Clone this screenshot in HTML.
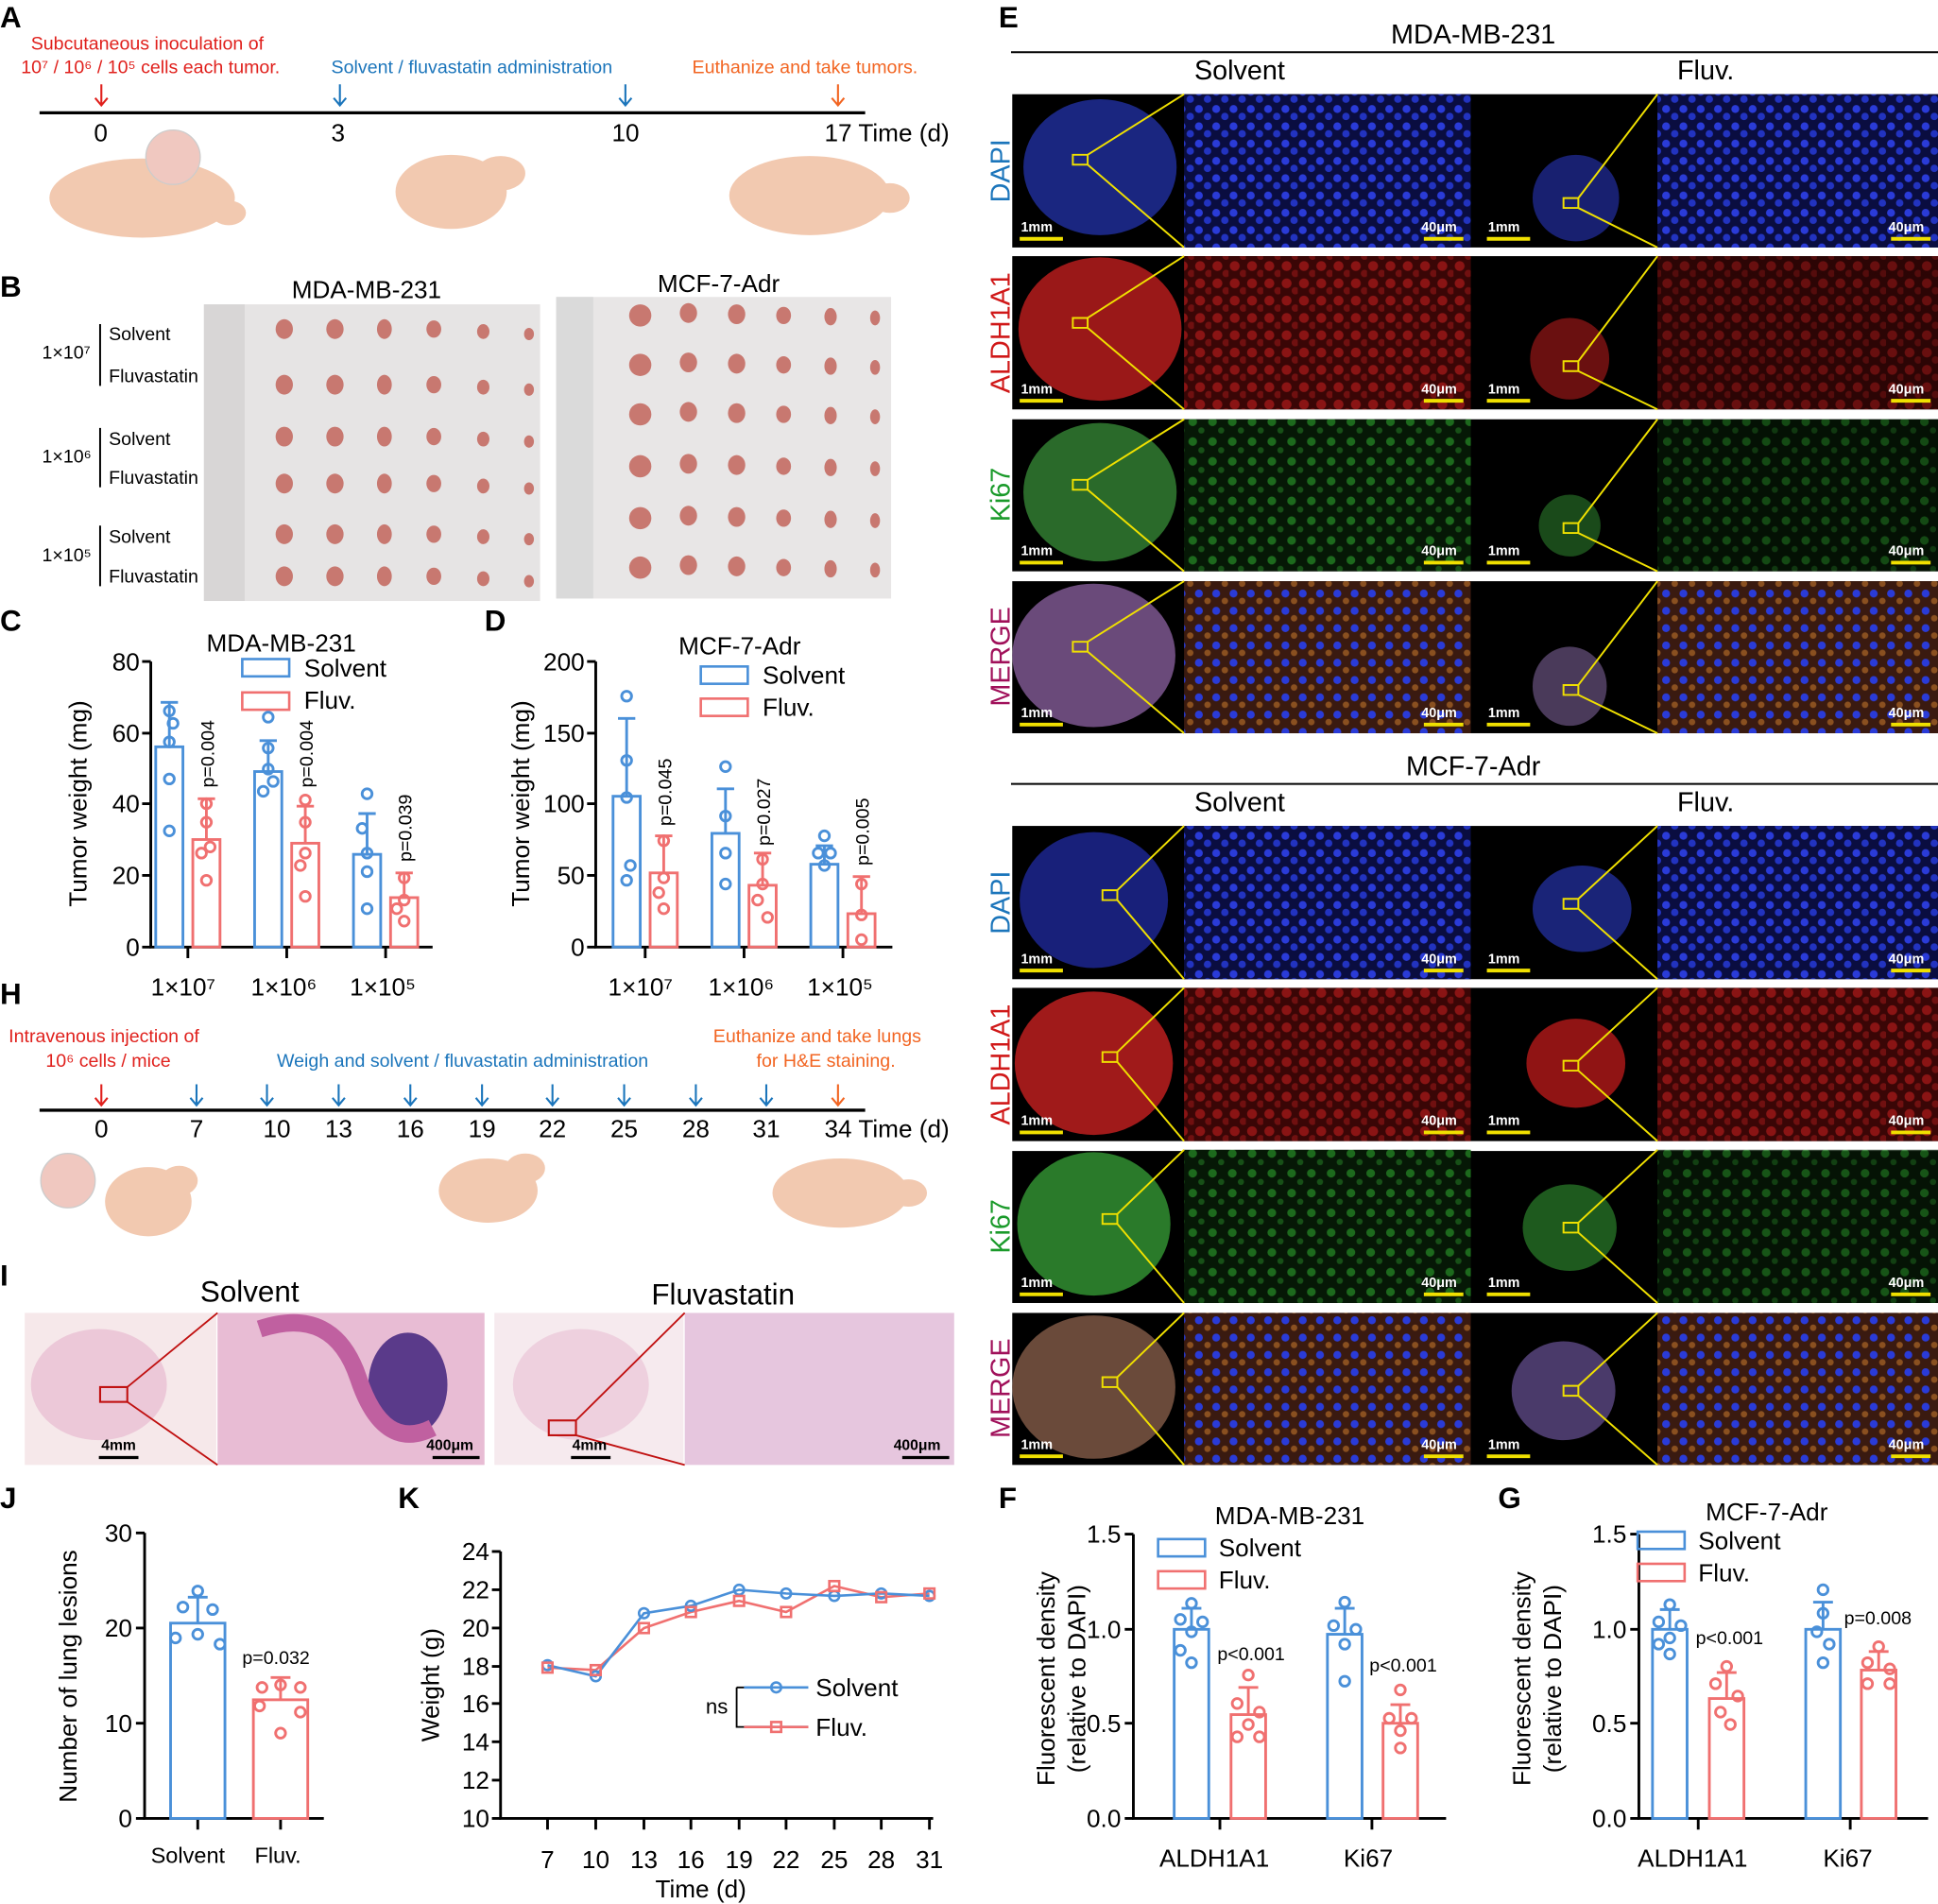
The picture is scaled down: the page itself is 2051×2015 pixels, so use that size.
<!DOCTYPE html>
<html><head><meta charset="utf-8"><style>
html,body{margin:0;padding:0;background:#fff}
svg{display:block}
text{font-family:"Liberation Sans",Arial,sans-serif}
</style></head><body>
<svg width="2051" height="2015" viewBox="0 0 1568 1540" xmlns="http://www.w3.org/2000/svg">
<defs>
<pattern id="pb" width="14" height="14" patternUnits="userSpaceOnUse"><rect width="14" height="14" fill="#0a0d40"/><circle cx="4" cy="4" r="3.2" fill="#2a3bd8"/><circle cx="11" cy="10" r="3" fill="#2233c0"/></pattern>
<pattern id="pr" width="14" height="14" patternUnits="userSpaceOnUse"><rect width="14" height="14" fill="#3a0606"/><circle cx="5" cy="5" r="4" fill="#8a1414"/><circle cx="12" cy="11" r="3" fill="#701010"/></pattern>
<pattern id="pg" width="16" height="16" patternUnits="userSpaceOnUse"><rect width="16" height="16" fill="#061806"/><circle cx="5" cy="5" r="3.5" fill="#1d6a1d"/><circle cx="12" cy="12" r="2.5" fill="#175017"/></pattern>
<pattern id="pm" width="14" height="14" patternUnits="userSpaceOnUse"><rect width="14" height="14" fill="#3a1a10"/><circle cx="4" cy="4" r="3.2" fill="#2a3bd8"/><circle cx="11" cy="10" r="2.6" fill="#8a5020"/></pattern>
</defs>
<g font-size="20" fill="#000">
<!-- Panel letters -->
<g font-weight="bold" font-size="24">
<text x="0" y="22">A</text><text x="0" y="240">B</text><text x="0" y="510">C</text><text x="392" y="510">D</text><text x="808" y="22">E</text>
<text x="0" y="812">H</text><text x="0" y="1040">I</text><text x="0" y="1220">J</text><text x="322" y="1220">K</text><text x="808" y="1220">F</text><text x="1212" y="1220">G</text>
</g>
<!-- Timeline A -->
<text x="25" y="40" font-size="15" fill="#e0201c">Subcutaneous inoculation of</text>
<text x="17" y="59" font-size="15" fill="#e0201c">10⁷ / 10⁶ / 10⁵ cells each tumor.</text>
<text x="268" y="59" font-size="15" fill="#1b75bb">Solvent / fluvastatin administration</text>
<text x="560" y="59" font-size="15" fill="#f26522">Euthanize and take tumors.</text>
<line x1="32" y1="91" x2="700" y2="91" stroke="#000" stroke-width="2.5"/>
<g stroke-width="1.6"><path d="M82 68v16M77 79l5 6 5-6" stroke="#e0201c" fill="none"/><path d="M275 68v16M270 79l5 6 5-6" stroke="#1b75bb" fill="none"/><path d="M506 68v16M501 79l5 6 5-6" stroke="#1b75bb" fill="none"/><path d="M678 68v16M673 79l5 6 5-6" stroke="#f26522" fill="none"/></g>
<text x="76" y="114">0</text><text x="268" y="114">3</text><text x="495" y="114">10</text><text x="667" y="114">17  Time (d)</text>
<g fill="#f2c9b0"><ellipse cx="115" cy="160" rx="75" ry="32"/><ellipse cx="185" cy="172" rx="14" ry="10"/><ellipse cx="365" cy="155" rx="45" ry="30"/><ellipse cx="405" cy="140" rx="20" ry="14"/><ellipse cx="655" cy="158" rx="65" ry="32"/><ellipse cx="720" cy="160" rx="16" ry="12"/></g>
<circle cx="140" cy="127" r="22" fill="#f0c8c0" stroke="#ccc"/>
<!-- Panel B -->
<text x="236" y="241">MDA-MB-231</text><text x="532" y="236">MCF-7-Adr</text>
<rect x="165" y="246" width="272" height="240" fill="#e6e4e4"/><rect x="450" y="240" width="271" height="244" fill="#e8e6e6"/>
<rect x="165" y="246" width="33" height="240" fill="#d8d6d6"/><rect x="450" y="240" width="30" height="244" fill="#dadada"/>
<g fill="#c87870">
<g id="trow"><ellipse cx="230" cy="266" rx="7" ry="8"/><ellipse cx="271" cy="266" rx="7" ry="8"/><ellipse cx="311" cy="266" rx="6" ry="8"/><ellipse cx="351" cy="266" rx="6" ry="7"/><ellipse cx="391" cy="268" rx="5" ry="6"/><ellipse cx="428" cy="270" rx="4" ry="5"/></g>
<use href="#trow" y="45"/><use href="#trow" y="87"/><use href="#trow" y="125"/><use href="#trow" y="166"/><use href="#trow" y="200"/>
<g id="trow2"><ellipse cx="518" cy="255" rx="9" ry="9"/><ellipse cx="557" cy="253" rx="7" ry="8"/><ellipse cx="596" cy="254" rx="7" ry="8"/><ellipse cx="634" cy="255" rx="6" ry="7"/><ellipse cx="672" cy="256" rx="5" ry="7"/><ellipse cx="708" cy="257" rx="4" ry="6"/></g>
<use href="#trow2" y="40"/><use href="#trow2" y="80"/><use href="#trow2" y="122"/><use href="#trow2" y="164"/><use href="#trow2" y="204"/>
</g>
<g font-size="15"><text x="88" y="275">Solvent</text><text x="88" y="309">Fluvastatin</text><text x="34" y="290">1×10⁷</text>
<text x="88" y="360">Solvent</text><text x="88" y="391">Fluvastatin</text><text x="34" y="374">1×10⁶</text>
<text x="88" y="439">Solvent</text><text x="88" y="471">Fluvastatin</text><text x="34" y="454">1×10⁵</text></g>
<g stroke="#000" stroke-width="1.5"><line x1="81" y1="262" x2="81" y2="312"/><line x1="81" y1="346" x2="81" y2="394"/><line x1="81" y1="425" x2="81" y2="474"/></g>

<!-- Panel C -->
<g stroke="#000" stroke-width="2.2" fill="none"><path d="M122 535V766H350"/><path d="M115 535h7M115 593h7M115 650h7M115 708h7M115 766h7M152 766v9M232 766v9M312 766v9"/></g>
<g text-anchor="end"><text x="113" y="542">80</text><text x="113" y="600">60</text><text x="113" y="657">40</text><text x="113" y="715">20</text><text x="113" y="773">0</text></g>
<text transform="translate(70,650) rotate(-90)" text-anchor="middle">Tumor weight (mg)</text>
<text x="167" y="527">MDA-MB-231</text>
<rect x="196" y="533" width="38" height="14" fill="none" stroke="#4a90d9" stroke-width="2"/><text x="246" y="547">Solvent</text>
<rect x="196" y="560" width="38" height="14" fill="none" stroke="#f07070" stroke-width="2"/><text x="246" y="573">Fluv.</text>
<g stroke-width="2.2" fill="none">
<g stroke="#4a90d9"><rect x="126" y="604" width="22" height="162"/><rect x="206" y="624" width="22" height="142"/><rect x="286" y="691" width="22" height="75"/>
<path d="M137 604v-36M130 568h14M217 624v-25M210 599h14M297 691v-33M290 658h14"/>
<circle cx="137" cy="575" r="4"/><circle cx="137" cy="600" r="4"/><circle cx="137" cy="630" r="4"/><circle cx="137" cy="672" r="4"/><circle cx="140" cy="585" r="4"/>
<circle cx="217" cy="580" r="4"/><circle cx="217" cy="622" r="4"/><circle cx="213" cy="640" r="4"/><circle cx="221" cy="632" r="4"/><circle cx="217" cy="605" r="4"/>
<circle cx="297" cy="642" r="4"/><circle cx="297" cy="690" r="4"/><circle cx="297" cy="705" r="4"/><circle cx="297" cy="735" r="4"/><circle cx="293" cy="670" r="4"/></g>
<g stroke="#f07070"><rect x="156" y="679" width="22" height="87"/><rect x="236" y="682" width="22" height="84"/><rect x="316" y="726" width="22" height="40"/>
<path d="M167 679v-33M160 646h14M247 682v-30M240 652h14M327 726v-20M320 706h14"/>
<circle cx="167" cy="650" r="4"/><circle cx="167" cy="665" r="4"/><circle cx="170" cy="685" r="4"/><circle cx="167" cy="712" r="4"/><circle cx="163" cy="690" r="4"/>
<circle cx="247" cy="647" r="4"/><circle cx="247" cy="665" r="4"/><circle cx="247" cy="690" r="4"/><circle cx="247" cy="725" r="4"/><circle cx="243" cy="700" r="4"/>
<circle cx="327" cy="710" r="4"/><circle cx="327" cy="728" r="4"/><circle cx="327" cy="745" r="4"/><circle cx="321" cy="735" r="4"/></g></g>
<g font-size="15"><text transform="translate(173,637) rotate(-90)">p=0.004</text><text transform="translate(253,637) rotate(-90)">p=0.004</text><text transform="translate(333,697) rotate(-90)">p=0.039</text></g>
<text x="122" y="805">1×10⁷</text><text x="203" y="805">1×10⁶</text><text x="283" y="805">1×10⁵</text>

<!-- Panel D -->
<g stroke="#000" stroke-width="2.2" fill="none"><path d="M482 535V766H722"/><path d="M475 535h7M475 593h7M475 650h7M475 708h7M475 766h7M522 766v9M602 766v9M682 766v9"/></g>
<g text-anchor="end"><text x="473" y="542">200</text><text x="473" y="600">150</text><text x="473" y="657">100</text><text x="473" y="715">50</text><text x="473" y="773">0</text></g>
<text transform="translate(428,650) rotate(-90)" text-anchor="middle">Tumor weight (mg)</text>
<text x="549" y="529">MCF-7-Adr</text>
<rect x="567" y="539" width="38" height="14" fill="none" stroke="#4a90d9" stroke-width="2"/><text x="617" y="553">Solvent</text>
<rect x="567" y="565" width="38" height="14" fill="none" stroke="#f07070" stroke-width="2"/><text x="617" y="579">Fluv.</text>
<g stroke-width="2.2" fill="none">
<g stroke="#4a90d9"><rect x="496" y="644" width="22" height="122"/><rect x="576" y="674" width="22" height="92"/><rect x="656" y="699" width="22" height="67"/>
<path d="M507 644v-63M500 581h14M587 674v-36M580 638h14M667 699v-15M660 684h14"/>
<circle cx="507" cy="563" r="4"/><circle cx="507" cy="615" r="4"/><circle cx="507" cy="645" r="4"/><circle cx="510" cy="700" r="4"/><circle cx="507" cy="712" r="4"/>
<circle cx="587" cy="620" r="4"/><circle cx="587" cy="660" r="4"/><circle cx="587" cy="690" r="4"/><circle cx="587" cy="715" r="4"/>
<circle cx="667" cy="676" r="4"/><circle cx="662" cy="690" r="4"/><circle cx="672" cy="690" r="4"/><circle cx="667" cy="700" r="4"/></g>
<g stroke="#f07070"><rect x="526" y="706" width="22" height="60"/><rect x="606" y="716" width="22" height="50"/><rect x="686" y="739" width="22" height="27"/>
<path d="M537 706v-30M530 676h14M617 716v-26M610 690h14M697 739v-30M690 709h14"/>
<circle cx="537" cy="680" r="4"/><circle cx="537" cy="710" r="4"/><circle cx="537" cy="735" r="4"/><circle cx="533" cy="722" r="4"/>
<circle cx="617" cy="695" r="4"/><circle cx="617" cy="715" r="4"/><circle cx="621" cy="742" r="4"/><circle cx="613" cy="728" r="4"/>
<circle cx="697" cy="715" r="4"/><circle cx="697" cy="740" r="4"/><circle cx="697" cy="760" r="4"/></g></g>
<g font-size="15"><text transform="translate(543,668) rotate(-90)">p=0.045</text><text transform="translate(623,684) rotate(-90)">p=0.027</text><text transform="translate(703,700) rotate(-90)">p=0.005</text></g>
<text x="492" y="805">1×10⁷</text><text x="573" y="805">1×10⁶</text><text x="653" y="805">1×10⁵</text>

<!-- Timeline H -->
<text x="7" y="843" font-size="15" fill="#e0201c">Intravenous injection of</text>
<text x="37" y="863" font-size="15" fill="#e0201c">10⁶ cells / mice</text>
<text x="224" y="863" font-size="15" fill="#1b75bb">Weigh and  solvent / fluvastatin administration</text>
<text x="577" y="843" font-size="15" fill="#f26522">Euthanize and take lungs</text>
<text x="612" y="863" font-size="15" fill="#f26522">for H&amp;E staining.</text>
<line x1="32" y1="898" x2="700" y2="898" stroke="#000" stroke-width="2.5"/>
<g stroke-width="1.6" fill="none"><path d="M82 877v16M77 888l5 6 5-6" stroke="#e0201c"/>
<g stroke="#1b75bb"><path d="M159 877v16M154 888l5 6 5-6"/><path d="M216 877v16M211 888l5 6 5-6"/><path d="M274 877v16M269 888l5 6 5-6"/><path d="M332 877v16M327 888l5 6 5-6"/><path d="M390 877v16M385 888l5 6 5-6"/><path d="M447 877v16M442 888l5 6 5-6"/><path d="M505 877v16M500 888l5 6 5-6"/><path d="M563 877v16M558 888l5 6 5-6"/><path d="M620 877v16M615 888l5 6 5-6"/></g>
<path d="M678 877v16M673 888l5 6 5-6" stroke="#f26522"/></g>
<g text-anchor="middle"><text x="82" y="920">0</text><text x="159" y="920">7</text><text x="224" y="920">10</text><text x="274" y="920">13</text><text x="332" y="920">16</text><text x="390" y="920">19</text><text x="447" y="920">22</text><text x="505" y="920">25</text><text x="563" y="920">28</text><text x="620" y="920">31</text></g>
<text x="667" y="920">34  Time (d)</text>
<g fill="#f2c9b0"><ellipse cx="115" cy="275" rx="0" ry="0"/><ellipse cx="120" cy="972" rx="35" ry="28"/><ellipse cx="145" cy="955" rx="15" ry="12"/><ellipse cx="395" cy="963" rx="40" ry="26"/><ellipse cx="425" cy="945" rx="16" ry="12"/><ellipse cx="680" cy="965" rx="55" ry="28"/><ellipse cx="735" cy="965" rx="15" ry="11"/></g>
<circle cx="55" cy="955" r="22" fill="#f0c8c0" stroke="#ccc"/>

<!-- Panel I -->
<text x="162" y="1053" font-size="24">Solvent</text><text x="527" y="1055" font-size="24">Fluvastatin</text>
<rect x="20" y="1062" width="155" height="123" fill="#f6e8ea"/><rect x="176" y="1062" width="216" height="123" fill="#e8bcd4"/>
<rect x="400" y="1062" width="153" height="123" fill="#f6eaee"/><rect x="554" y="1062" width="218" height="123" fill="#e6c6de"/>
<ellipse cx="330" cy="1120" rx="32" ry="42" fill="#5a3a8a"/><path d="M210 1075q60-20 80 40t60 40" stroke="#c060a0" stroke-width="14" fill="none"/>
<ellipse cx="80" cy="1120" rx="55" ry="45" fill="#ecc8d8"/><ellipse cx="470" cy="1120" rx="55" ry="45" fill="#eed0de"/>
<rect x="81" y="1122" width="22" height="12" fill="none" stroke="#c01010" stroke-width="1.6"/><rect x="444" y="1149" width="22" height="12" fill="none" stroke="#c01010" stroke-width="1.6"/>
<g stroke="#c01010" stroke-width="1.4"><line x1="103" y1="1122" x2="176" y2="1062"/><line x1="103" y1="1134" x2="176" y2="1185"/><line x1="466" y1="1149" x2="554" y2="1062"/><line x1="466" y1="1161" x2="554" y2="1185"/></g>
<g font-size="12" font-weight="bold"><text x="82" y="1173">4mm</text><text x="345" y="1173">400μm</text><text x="463" y="1173">4mm</text><text x="723" y="1173">400μm</text></g>
<g stroke="#000" stroke-width="2.5"><line x1="80" y1="1179" x2="112" y2="1179"/><line x1="350" y1="1179" x2="388" y2="1179"/><line x1="462" y1="1179" x2="494" y2="1179"/><line x1="730" y1="1179" x2="768" y2="1179"/></g>

<!-- Panel J -->
<g stroke="#000" stroke-width="2.2" fill="none"><path d="M117 1240V1471H262"/><path d="M110 1240h7M110 1317h7M110 1394h7M110 1471h7M160 1471v9M227 1471v9"/></g>
<g text-anchor="end"><text x="107" y="1247">30</text><text x="107" y="1324">20</text><text x="107" y="1401">10</text><text x="107" y="1478">0</text></g>
<text transform="translate(62,1356) rotate(-90)" text-anchor="middle">Number of lung lesions</text>
<g stroke-width="2.2" fill="none">
<g stroke="#4a90d9"><rect x="138" y="1313" width="44" height="158"/><path d="M160 1313v-21M152 1292h16"/><circle cx="160" cy="1287" r="4"/><circle cx="148" cy="1300" r="4"/><circle cx="172" cy="1302" r="4"/><circle cx="142" cy="1325" r="4"/><circle cx="160" cy="1322" r="4"/><circle cx="178" cy="1330" r="4"/></g>
<g stroke="#f07070"><rect x="205" y="1375" width="44" height="96"/><path d="M227 1375v-18M219 1357h16"/><circle cx="212" cy="1365" r="4"/><circle cx="227" cy="1363" r="4"/><circle cx="243" cy="1365" r="4"/><circle cx="210" cy="1380" r="4"/><circle cx="243" cy="1385" r="4"/><circle cx="227" cy="1402" r="4"/></g></g>
<text x="196" y="1346" font-size="15">p=0.032</text>
<text x="122" y="1507" font-size="18">Solvent</text><text x="206" y="1507" font-size="18">Fluv.</text>

<!-- Panel K -->
<g stroke="#000" stroke-width="2.2" fill="none"><path d="M405 1255V1471H755"/>
<path d="M398 1255h7M398 1286h7M398 1317h7M398 1348h7M398 1378h7M398 1409h7M398 1440h7M398 1471h7"/>
<path d="M443 1471v9M482 1471v9M521 1471v9M559 1471v9M598 1471v9M636 1471v9M675 1471v9M713 1471v9M752 1471v9"/></g>
<g text-anchor="end"><text x="396" y="1262">24</text><text x="396" y="1293">22</text><text x="396" y="1324">20</text><text x="396" y="1355">18</text><text x="396" y="1385">16</text><text x="396" y="1416">14</text><text x="396" y="1447">12</text><text x="396" y="1478">10</text></g>
<g text-anchor="middle"><text x="443" y="1511">7</text><text x="482" y="1511">10</text><text x="521" y="1511">13</text><text x="559" y="1511">16</text><text x="598" y="1511">19</text><text x="636" y="1511">22</text><text x="675" y="1511">25</text><text x="713" y="1511">28</text><text x="752" y="1511">31</text><text x="567" y="1535">Time (d)</text></g>
<text transform="translate(355,1363) rotate(-90)" text-anchor="middle">Weight (g)</text>
<g fill="none" stroke-width="2">
<polyline stroke="#f07070" points="443,1349 482,1351 521,1317 559,1304 598,1295 636,1304 675,1283 713,1292 752,1289"/>
<polyline stroke="#4a90d9" points="443,1347 482,1356 521,1305 559,1299 598,1286 636,1289 675,1291 713,1289 752,1291"/>
<g stroke="#4a90d9"><circle cx="443" cy="1347" r="4"/><circle cx="482" cy="1356" r="4"/><circle cx="521" cy="1305" r="4"/><circle cx="559" cy="1299" r="4"/><circle cx="598" cy="1286" r="4"/><circle cx="636" cy="1289" r="4"/><circle cx="675" cy="1291" r="4"/><circle cx="713" cy="1289" r="4"/><circle cx="752" cy="1291" r="4"/></g>
<g stroke="#f07070"><rect x="439" y="1345" width="8" height="8"/><rect x="478" y="1347" width="8" height="8"/><rect x="517" y="1313" width="8" height="8"/><rect x="555" y="1300" width="8" height="8"/><rect x="594" y="1291" width="8" height="8"/><rect x="632" y="1300" width="8" height="8"/><rect x="671" y="1279" width="8" height="8"/><rect x="709" y="1288" width="8" height="8"/><rect x="748" y="1285" width="8" height="8"/></g>
<path d="M596 1365h6M596 1365v32h6" stroke="#000" stroke-width="1.4"/>
<path d="M602 1365h52M602 1397h52" stroke="#4a90d9"/><path d="M602 1397h52" stroke="#f07070"/>
<circle cx="628" cy="1365" r="4" stroke="#4a90d9"/><rect x="624" y="1393" width="8" height="8" stroke="#f07070"/></g>
<text x="571" y="1386" font-size="17">ns</text>
<text x="660" y="1372">Solvent</text><text x="660" y="1404">Fluv.</text>

<!-- Panel F -->
<g stroke="#000" stroke-width="2.2" fill="none"><path d="M917 1241V1471H1170"/><path d="M910 1241h7M910 1318h7M910 1394h7M910 1471h7M987 1471v9M1110 1471v9"/></g>
<g text-anchor="end"><text x="907" y="1248">1.5</text><text x="907" y="1325">1.0</text><text x="907" y="1401">0.5</text><text x="907" y="1478">0.0</text></g>
<text transform="translate(853,1358) rotate(-90)" text-anchor="middle">Fluorescent density</text>
<text transform="translate(878,1358) rotate(-90)" text-anchor="middle">(relative to DAPI)</text>
<text x="983" y="1233">MDA-MB-231</text>
<rect x="937" y="1245" width="38" height="14" fill="none" stroke="#4a90d9" stroke-width="2"/><text x="986" y="1259">Solvent</text>
<rect x="937" y="1271" width="38" height="14" fill="none" stroke="#f07070" stroke-width="2"/><text x="986" y="1285">Fluv.</text>
<g stroke-width="2.2" fill="none">
<g stroke="#4a90d9"><rect x="950" y="1318" width="28" height="153"/><rect x="1074" y="1322" width="28" height="149"/><path d="M964 1318v-17M956 1301h16M1088 1322v-21M1080 1301h16"/>
<circle cx="964" cy="1297" r="4"/><circle cx="955" cy="1310" r="4"/><circle cx="973" cy="1312" r="4"/><circle cx="964" cy="1320" r="4"/><circle cx="955" cy="1335" r="4"/><circle cx="964" cy="1345" r="4"/>
<circle cx="1088" cy="1296" r="4"/><circle cx="1079" cy="1315" r="4"/><circle cx="1097" cy="1318" r="4"/><circle cx="1088" cy="1330" r="4"/><circle cx="1088" cy="1360" r="4"/></g>
<g stroke="#f07070"><rect x="996" y="1387" width="28" height="84"/><rect x="1119" y="1394" width="28" height="77"/><path d="M1010 1387v-22M1002 1365h16M1133 1394v-15M1125 1379h16"/>
<circle cx="1010" cy="1355" r="4"/><circle cx="1001" cy="1378" r="4"/><circle cx="1019" cy="1385" r="4"/><circle cx="1010" cy="1395" r="4"/><circle cx="1001" cy="1405" r="4"/><circle cx="1019" cy="1405" r="4"/>
<circle cx="1133" cy="1367" r="4"/><circle cx="1124" cy="1390" r="4"/><circle cx="1142" cy="1390" r="4"/><circle cx="1133" cy="1400" r="4"/><circle cx="1133" cy="1414" r="4"/></g></g>
<g font-size="15"><text x="985" y="1343">p&lt;0.001</text><text x="1108" y="1352">p&lt;0.001</text></g>
<text x="938" y="1510">ALDH1A1</text><text x="1087" y="1510">Ki67</text>

<!-- Panel G -->
<g stroke="#000" stroke-width="2.2" fill="none"><path d="M1326 1241V1471H1560"/><path d="M1319 1241h7M1319 1318h7M1319 1394h7M1319 1471h7M1374 1471v9M1497 1471v9"/></g>
<g text-anchor="end"><text x="1316" y="1248">1.5</text><text x="1316" y="1325">1.0</text><text x="1316" y="1401">0.5</text><text x="1316" y="1478">0.0</text></g>
<text transform="translate(1238,1358) rotate(-90)" text-anchor="middle">Fluorescent density</text>
<text transform="translate(1263,1358) rotate(-90)" text-anchor="middle">(relative to DAPI)</text>
<text x="1380" y="1230">MCF-7-Adr</text>
<rect x="1325" y="1239" width="38" height="14" fill="none" stroke="#4a90d9" stroke-width="2"/><text x="1374" y="1253">Solvent</text>
<rect x="1325" y="1265" width="38" height="14" fill="none" stroke="#f07070" stroke-width="2"/><text x="1374" y="1279">Fluv.</text>
<g stroke-width="2.2" fill="none">
<g stroke="#4a90d9"><rect x="1337" y="1318" width="28" height="153"/><rect x="1461" y="1318" width="28" height="153"/><path d="M1351 1318v-16M1343 1302h16M1475 1318v-22M1467 1296h16"/>
<circle cx="1351" cy="1298" r="4"/><circle cx="1342" cy="1312" r="4"/><circle cx="1360" cy="1315" r="4"/><circle cx="1351" cy="1325" r="4"/><circle cx="1342" cy="1330" r="4"/><circle cx="1351" cy="1338" r="4"/>
<circle cx="1475" cy="1286" r="4"/><circle cx="1475" cy="1305" r="4"/><circle cx="1470" cy="1320" r="4"/><circle cx="1480" cy="1330" r="4"/><circle cx="1475" cy="1345" r="4"/></g>
<g stroke="#f07070"><rect x="1383" y="1374" width="28" height="97"/><rect x="1506" y="1351" width="28" height="120"/><path d="M1397 1374v-21M1389 1353h16M1520 1351v-15M1512 1336h16"/>
<circle cx="1397" cy="1348" r="4"/><circle cx="1388" cy="1362" r="4"/><circle cx="1406" cy="1372" r="4"/><circle cx="1392" cy="1385" r="4"/><circle cx="1400" cy="1395" r="4"/>
<circle cx="1520" cy="1332" r="4"/><circle cx="1511" cy="1345" r="4"/><circle cx="1529" cy="1350" r="4"/><circle cx="1511" cy="1362" r="4"/><circle cx="1529" cy="1362" r="4"/></g></g>
<g font-size="15"><text x="1372" y="1330">p&lt;0.001</text><text x="1492" y="1314">p=0.008</text></g>
<text x="1325" y="1510">ALDH1A1</text><text x="1475" y="1510">Ki67</text>

<!-- Panel E -->
<text x="1192" y="35" text-anchor="middle" font-size="22">MDA-MB-231</text><line x1="818" y1="42" x2="1568" y2="42" stroke="#000" stroke-width="1.5"/>
<text x="1003" y="64" text-anchor="middle" font-size="22">Solvent</text><text x="1380" y="64" text-anchor="middle" font-size="22">Fluv.</text>
<text x="1192" y="627" text-anchor="middle" font-size="22">MCF-7-Adr</text><line x1="818" y1="634" x2="1568" y2="634" stroke="#000" stroke-width="1.5"/>
<text x="1003" y="656" text-anchor="middle" font-size="22">Solvent</text><text x="1380" y="656" text-anchor="middle" font-size="22">Fluv.</text>
<g font-size="22">
<text transform="translate(817,138) rotate(-90)" text-anchor="middle" fill="#1b75bb">DAPI</text>
<text transform="translate(817,269) rotate(-90)" text-anchor="middle" fill="#d01818">ALDH1A1</text>
<text transform="translate(817,400) rotate(-90)" text-anchor="middle" fill="#1a9a2a">Ki67</text>
<text transform="translate(817,531) rotate(-90)" text-anchor="middle" fill="#a0105a">MERGE</text>
<text transform="translate(817,730) rotate(-90)" text-anchor="middle" fill="#1b75bb">DAPI</text>
<text transform="translate(817,861) rotate(-90)" text-anchor="middle" fill="#d01818">ALDH1A1</text>
<text transform="translate(817,992) rotate(-90)" text-anchor="middle" fill="#1a9a2a">Ki67</text>
<text transform="translate(817,1123) rotate(-90)" text-anchor="middle" fill="#a0105a">MERGE</text>
</g>
<!-- image rows -->
<g id="rows">
<rect x="819" y="76" width="749" height="124" fill="#000"/><rect x="819" y="207" width="749" height="124" fill="#000"/><rect x="819" y="339" width="749" height="123" fill="#000"/><rect x="819" y="470" width="749" height="123" fill="#000"/>
</g>
<use href="#rows" y="592"/>
<!-- zoom panels -->
<rect x="958" y="76" width="232" height="124" fill="url(#pb)"/><rect x="1341" y="76" width="227" height="124" fill="url(#pb)"/>
<rect x="958" y="207" width="232" height="124" fill="url(#pr)"/><rect x="1341" y="207" width="227" height="124" fill="url(#pr)" opacity="0.75"/>
<rect x="958" y="339" width="232" height="123" fill="url(#pg)"/><rect x="1341" y="339" width="227" height="123" fill="url(#pg)" opacity="0.7"/>
<rect x="958" y="470" width="232" height="123" fill="url(#pm)"/><rect x="1341" y="470" width="227" height="123" fill="url(#pm)"/>
<rect x="958" y="668" width="232" height="124" fill="url(#pb)"/><rect x="1341" y="668" width="227" height="124" fill="url(#pb)"/>
<rect x="958" y="799" width="232" height="124" fill="url(#pr)"/><rect x="1341" y="799" width="227" height="124" fill="url(#pr)"/>
<rect x="958" y="930" width="232" height="124" fill="url(#pg)"/><rect x="1341" y="930" width="227" height="124" fill="url(#pg)" opacity="0.8"/>
<rect x="958" y="1062" width="232" height="123" fill="url(#pm)"/><rect x="1341" y="1062" width="227" height="123" fill="url(#pm)"/>
<!-- overview blobs -->
<ellipse cx="890" cy="135" rx="62" ry="55" fill="#1a2680"/><ellipse cx="890" cy="266" rx="66" ry="58" fill="#9a1818"/><ellipse cx="890" cy="398" rx="62" ry="56" fill="#2a6a2a"/><ellipse cx="885" cy="530" rx="66" ry="58" fill="#6a4a7a"/>
<ellipse cx="1275" cy="160" rx="35" ry="35" fill="#182070"/><ellipse cx="1270" cy="290" rx="32" ry="33" fill="#6a1010"/><ellipse cx="1270" cy="425" rx="25" ry="25" fill="#1a4a1a"/><ellipse cx="1270" cy="555" rx="30" ry="32" fill="#4a3a5a"/>
<ellipse cx="885" cy="728" rx="60" ry="55" fill="#18207a"/><ellipse cx="885" cy="860" rx="64" ry="58" fill="#a01a1a"/><ellipse cx="885" cy="990" rx="62" ry="58" fill="#2a7a2a"/><ellipse cx="885" cy="1122" rx="66" ry="58" fill="#6a4a3a"/>
<ellipse cx="1280" cy="735" rx="40" ry="35" fill="#1a2478"/><ellipse cx="1275" cy="860" rx="40" ry="36" fill="#901414"/><ellipse cx="1270" cy="993" rx="38" ry="35" fill="#1e5a1e"/><ellipse cx="1265" cy="1125" rx="42" ry="40" fill="#4a3a6a"/>
<!-- yellow zoom lines -->
<g stroke="#f0e000" stroke-width="1.5" fill="none">
<path d="M868 125h12v8h-12zM880 125L958 76M880 133L958 200"/>
<path d="M868 257h12v8h-12zM880 257L958 207M880 265L958 331"/>
<path d="M868 388h12v8h-12zM880 388L958 339M880 396L958 462"/>
<path d="M868 519h12v8h-12zM880 519L958 470M880 527L958 593"/>
<path d="M1265 160h12v8h-12zM1277 160L1341 76M1277 168L1341 200"/>
<path d="M1265 292h12v8h-12zM1277 292L1341 207M1277 300L1341 331"/>
<path d="M1265 423h12v8h-12zM1277 423L1341 339M1277 431L1341 462"/>
<path d="M1265 554h12v8h-12zM1277 554L1341 470M1277 562L1341 593"/>
<path d="M892 720h12v8h-12zM904 720L958 668M904 728L958 792"/>
<path d="M892 851h12v8h-12zM904 851L958 799M904 859L958 923"/>
<path d="M892 982h12v8h-12zM904 982L958 930M904 990L958 1054"/>
<path d="M892 1114h12v8h-12zM904 1114L958 1062M904 1122L958 1185"/>
<path d="M1265 727h12v8h-12zM1277 727L1341 668M1277 735L1341 792"/>
<path d="M1265 858h12v8h-12zM1277 858L1341 799M1277 866L1341 923"/>
<path d="M1265 989h12v8h-12zM1277 989L1341 930M1277 997L1341 1054"/>
<path d="M1265 1121h12v8h-12zM1277 1121L1341 1062M1277 1129L1341 1185"/>
</g>
<!-- scale bars -->
<g id="sb"><g fill="#fff" font-size="11" font-weight="bold"><text x="826" y="187">1mm</text><text x="1150" y="187">40μm</text><text x="1204" y="187">1mm</text><text x="1528" y="187">40μm</text></g>
<g stroke="#f0e000" stroke-width="3"><line x1="825" y1="193" x2="860" y2="193"/><line x1="1152" y1="193" x2="1184" y2="193"/><line x1="1203" y1="193" x2="1238" y2="193"/><line x1="1530" y1="193" x2="1562" y2="193"/></g></g>
<use href="#sb" y="131"/><use href="#sb" y="262"/><use href="#sb" y="393"/>
<use href="#sb" y="592"/><use href="#sb" y="723"/><use href="#sb" y="854"/><use href="#sb" y="985"/>
</g>
</svg>
</body></html>
